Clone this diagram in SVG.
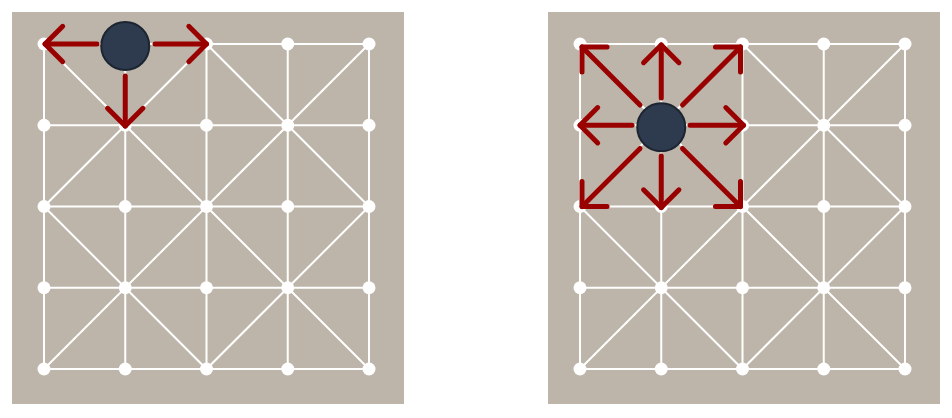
<svg xmlns="http://www.w3.org/2000/svg" width="952" height="418" viewBox="0 0 952 418">
  <style>
    .bg { fill: #bdb5a9; }
    .ln { stroke: #ffffff; stroke-width: 2; fill: none; }
    .dot { fill: #ffffff; }
    .piece { fill: #2e3b4e; stroke: #1c2531; stroke-width: 2; }
    .arr { stroke: #990000; stroke-width: 5; stroke-linecap: round; fill: none; marker-end: url(#chev); }
  </style>
  <defs>
    <marker id="chev" markerUnits="userSpaceOnUse" viewBox="-24 -24 48 48" markerWidth="48" markerHeight="48" refX="0" refY="0" orient="auto" overflow="visible">
      <path d="M-17.7,-17.7 L0,0 L-17.7,17.7" fill="none" stroke="#990000" stroke-width="5" stroke-linecap="round" stroke-linejoin="round"/>
    </marker>
    <g id="board">
      <rect class="bg" x="0" y="0" width="392" height="392"/>
      <path class="ln" d="M32,32H357M32,113.25H357M32,194.5H357M32,275.75H357M32,357H357M32,32V357M113.25,32V357M194.5,32V357M275.75,32V357M357,32V357M32,32L357,357M357,32L32,357M32,194.5L194.5,32L357,194.5L194.5,357Z"/>
      <g class="dot">
        <circle cx="32" cy="32" r="6.5"/><circle cx="113.25" cy="32" r="6.5"/><circle cx="194.5" cy="32" r="6.5"/><circle cx="275.75" cy="32" r="6.5"/><circle cx="357" cy="32" r="6.5"/>
        <circle cx="32" cy="113.25" r="6.5"/><circle cx="113.25" cy="113.25" r="6.5"/><circle cx="194.5" cy="113.25" r="6.5"/><circle cx="275.75" cy="113.25" r="6.5"/><circle cx="357" cy="113.25" r="6.5"/>
        <circle cx="32" cy="194.5" r="6.5"/><circle cx="113.25" cy="194.5" r="6.5"/><circle cx="194.5" cy="194.5" r="6.5"/><circle cx="275.75" cy="194.5" r="6.5"/><circle cx="357" cy="194.5" r="6.5"/>
        <circle cx="32" cy="275.75" r="6.5"/><circle cx="113.25" cy="275.75" r="6.5"/><circle cx="194.5" cy="275.75" r="6.5"/><circle cx="275.75" cy="275.75" r="6.5"/><circle cx="357" cy="275.75" r="6.5"/>
        <circle cx="32" cy="357" r="6.5"/><circle cx="113.25" cy="357" r="6.5"/><circle cx="194.5" cy="357" r="6.5"/><circle cx="275.75" cy="357" r="6.5"/><circle cx="357" cy="357" r="6.5"/>
      </g>
    </g>
  </defs>
  <g id="board-left"><use href="#board" x="12" y="12"/></g>
  <g id="board-right"><use href="#board" x="548" y="12"/></g>
  <g id="piece-left"><circle class="piece" cx="125.25" cy="46" r="24"/></g>
  <g id="piece-right"><circle class="piece" cx="661.25" cy="127.25" r="24"/></g>
  <g id="connectors">
    <line class="arr" x1="97" y1="44" x2="45" y2="44"/>
    <line class="arr" x1="155" y1="44" x2="206.5" y2="44"/>
    <line class="arr" x1="125.25" y1="76" x2="125.25" y2="126"/>
    <line class="arr" x1="661.25" y1="98" x2="661.25" y2="45"/>
    <line class="arr" x1="661.25" y1="156" x2="661.25" y2="207.5"/>
    <line class="arr" x1="690" y1="125.25" x2="743.5" y2="125.25"/>
    <line class="arr" x1="632" y1="125.25" x2="580" y2="125.25"/>
    <line class="arr" x1="640" y1="105" x2="582" y2="47"/>
    <line class="arr" x1="682.5" y1="105" x2="740.5" y2="47"/>
    <line class="arr" x1="640" y1="148.5" x2="582" y2="206.5"/>
    <line class="arr" x1="682.5" y1="148.5" x2="740.5" y2="206.5"/>
  </g>
</svg>
